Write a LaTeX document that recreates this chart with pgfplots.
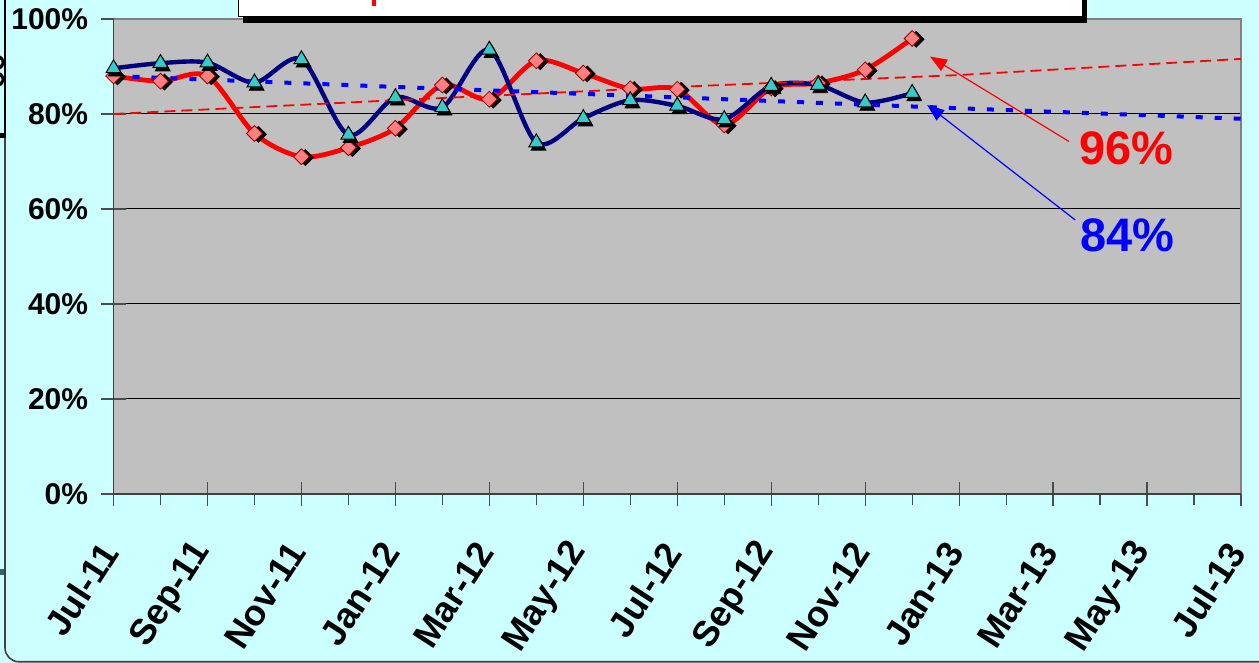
\documentclass[border=0pt]{standalone}
\usepackage{pgfplots}
\pgfplotsset{compat=1.18}
\usepackage{fontspec}
\setmainfont{Liberation Sans}
\usetikzlibrary{arrows.meta}
\definecolor{bgcyan}{HTML}{CCFFFF}
\definecolor{plotgray}{HTML}{C0C0C0}
\definecolor{navyline}{HTML}{000080}
\definecolor{diafill}{HTML}{FF8080}
\definecolor{diadraw}{HTML}{990000}
\definecolor{trifill}{HTML}{33CCCC}
\definecolor{bordergray}{HTML}{808080}
\definecolor{tealmark}{HTML}{336666}

\pgfplotstableread{
m v
0 88.0
1 86.9
2 88.0
3 75.9
4 71.0
5 72.9
6 77.0
7 86.1
8 83.1
9 91.2
10 88.6
11 85.3
12 85.2
13 77.7
14 85.5
15 86.5
16 89.3
17 95.9
}\redtab

\pgfplotstableread{
m v
0 89.6
1 90.7
2 90.8
3 86.6
4 91.5
5 75.6
6 83.5
7 81.4
8 93.5
9 74.0
10 79.1
11 82.9
12 81.7
13 78.9
14 85.9
15 86.1
16 82.4
17 84.4
}\bluetab

\pgfplotstableread{
m v
0 80.0
6 82.9
12 85.7
18 88.2
24 91.6
}\redtrend

\pgfplotstableread{
m v
0 88.0
6 85.7
12 83.5
18 81.2
24 79.0
}\bluetrend

\begin{document}
\begin{tikzpicture}
\path[use as bounding box] (0pt,0pt) rectangle (629.5pt,331.5pt);
\clip (0pt,0pt) rectangle (629.5pt,331.5pt);
\fill[bgcyan] (-5pt,-5pt) rectangle (640pt,340pt);
\draw[black!75, line width=0.8pt, rounded corners=7pt] (2.5pt,0.6pt) rectangle (700pt,400pt);
\draw[black, line width=1pt] (2.4pt,332pt) -- (2.4pt,263.5pt);
\fill[black] (0pt,262.5pt) rectangle (3pt,265pt);
\fill[tealmark] (0pt,44pt) rectangle (2pt,47pt);
\node[rotate=90, anchor=base, font=\fontsize{15}{18}\selectfont\bfseries, inner sep=0pt] at (2pt,295.5pt) {ce};

\begin{axis}[
  at={(56.75pt,84.5pt)}, anchor=south west,
  scale only axis, width=563.75pt, height=237.5pt,
  xmin=0, xmax=24, ymin=0, ymax=100,
  clip=false,
  axis background/.style={fill=plotgray},
  axis line style={draw=none},
  xtick={0,2,...,24},
  xticklabels={Jul-11,Sep-11,Nov-11,Jan-12,Mar-12,May-12,Jul-12,Sep-12,Nov-12,Jan-13,Mar-13,May-13,Jul-13},
  minor xtick={1,3,...,23},
  ytick={0,20,40,60,80,100},
  yticklabels={0\%,20\%,40\%,60\%,80\%,100\%},
  tick pos=left,
  tick align=center,
  major tick length=12pt,
  minor tick length=5.5pt,
  every tick/.style={black!70, line width=0.6pt},
  every minor tick/.append style={yshift=-2.75pt},
  ymajorgrids,
  major grid style={black, line width=0.5pt},
  yticklabel style={font=\fontsize{15}{18}\selectfont\bfseries, anchor=east, inner sep=0pt, xshift=-6.5pt},
  xticklabel style={font=\fontsize{18}{21}\selectfont\bfseries, inner sep=0pt, xshift=-2pt, yshift=-20pt, rotate=57, anchor=east},
]
% plot frame
\draw[bordergray, line width=1pt] (rel axis cs:0,1) -- (rel axis cs:1,1) -- (rel axis cs:1,0);
\draw[black!75, line width=0.8pt] (rel axis cs:0,1) -- (rel axis cs:0,0) -- (rel axis cs:1,0);

% red series
\addplot[red, line width=2.4pt, smooth, tension=0.5] table[x=m,y=v] {\redtab};
\addplot[only marks, mark=square*, mark size=2.8pt, mark options={rotate=45, fill=black, draw=black, xshift=1.1pt, yshift=-1.7pt}] table[x=m,y=v] {\redtab};
\addplot[only marks, mark=square*, mark size=2.8pt, mark options={rotate=45, fill=diafill, draw=diadraw, line width=0.4pt}] table[x=m,y=v] {\redtab};

% blue series
\addplot[navyline, line width=2.2pt, smooth, tension=0.5] table[x=m,y=v] {\bluetab};
\addplot[only marks, mark=triangle*, mark size=4.3pt, mark options={fill=black, draw=black, xshift=1.1pt, yshift=-1.7pt}] table[x=m,y=v] {\bluetab};
\addplot[only marks, mark=triangle*, mark size=4.3pt, mark options={fill=trifill, draw=black, line width=0.5pt}] table[x=m,y=v] {\bluetab};

% trend lines
\addplot[red, line width=0.9pt, dash pattern=on 5.5pt off 3pt] table[x=m,y=v] {\redtrend};
\addplot[blue, line width=2pt, dash pattern=on 3.5pt off 6pt] table[x=m,y=v] {\bluetrend};

% annotations
\draw[red, line width=0.6pt, -{Triangle[length=8.5pt,width=6.5pt]}] (axis cs:20.34,74.2) -- (axis cs:17.38,92.1);
\draw[blue, line width=0.6pt, -{Triangle[length=8.5pt,width=6.5pt]}] (axis cs:20.47,57.7) -- (axis cs:17.32,81.9);
\node[red, font=\fontsize{23.5}{28}\selectfont\bfseries, inner sep=0pt] at (axis cs:21.56,72.8) {96\%};
\node[blue, font=\fontsize{23.5}{28}\selectfont\bfseries, inner sep=0pt] at (axis cs:21.58,54.5) {84\%};
\end{axis}

% title box (cropped)
\fill[black] (121.5pt,340pt) rectangle (543.5pt,320pt);
\filldraw[fill=white, draw=black, line width=0.5pt] (119pt,340pt) rectangle (541pt,323pt);
\fill[red] (186pt,332pt) rectangle (188.2pt,328.6pt);
\end{tikzpicture}
\end{document}
